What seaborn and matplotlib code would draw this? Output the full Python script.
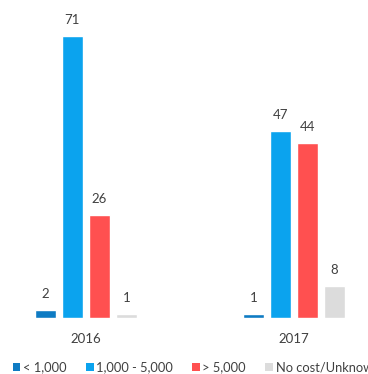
import matplotlib
matplotlib.use("Agg")
import matplotlib.pyplot as plt
import seaborn as sns
import pandas as pd
from matplotlib.patches import Patch

years = ["2016", "2017"]
cost_bands = ["< 1,000", "1,000 - 5,000", "> 5,000", "No cost/Unknown"]
under_1000 = [2, 1]
from_1000_to_5000 = [71, 47]
over_5000 = [26, 44]
no_cost_unknown = [1, 8]
colors = ["#0E7BC3", "#0BA3EE", "#FF5050", "#DCDCDC"]

series = [under_1000, from_1000_to_5000, over_5000, no_cost_unknown]
rows = []
for band, vals in zip(cost_bands, series):
    for y, v in zip(years, vals):
        rows.append({"year": y, "band": band, "value": v})
df = pd.DataFrame(rows)

sns.set_style("white")
plt.rcParams["font.family"] = ["Lato", "DejaVu Sans"]

fig = plt.figure(figsize=(3.68, 3.74), dpi=100)
ax = fig.add_axes([0, 56 / 374, 1, 318 / 374])
sns.barplot(data=df, x="year", y="value", hue="band", hue_order=cost_bands,
            palette=colors, width=0.52, gap=0.22, ax=ax, legend=False,
            saturation=1, errorbar=None)
for c in ax.containers:
    ax.bar_label(c, padding=7, fontsize=9.5, color="#404040")
ax.set_xlim(-0.413, 1.356)
ax.set_ylim(0, 80)
ax.set_xlabel("")
ax.set_ylabel("")
ax.set_yticks([])
ax.tick_params(axis="x", length=0, pad=11, labelsize=9.5, labelcolor="#404040")
for s in ax.spines.values():
    s.set_visible(False)

handles = [Patch(facecolor=c, edgecolor="none") for c in colors]
fig.legend(handles, cost_bands, loc="center left", bbox_to_anchor=(13 / 368, 6.5 / 374),
           ncol=4, frameon=False, fontsize=9.3, handlelength=0.58, handleheight=0.58,
           handletextpad=0.2, columnspacing=1.5, borderpad=0, borderaxespad=0,
           labelcolor="#404040")

fig.savefig("out.png", dpi=100)
